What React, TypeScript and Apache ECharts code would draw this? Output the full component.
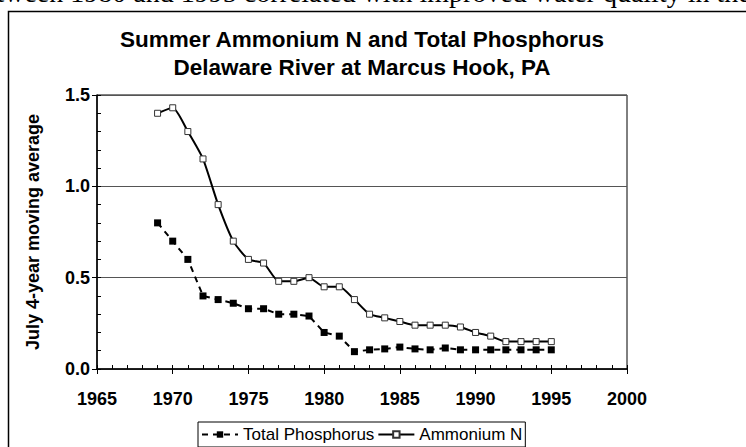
import React, { useEffect, useRef } from "react";
import * as echarts from "echarts";

const years = [1969, 1970, 1971, 1972, 1973, 1974, 1975, 1976, 1977, 1978, 1979, 1980, 1981, 1982, 1983, 1984, 1985, 1986, 1987, 1988, 1989, 1990, 1991, 1992, 1993, 1994, 1995];
const ammoniumN = [1.40, 1.43, 1.30, 1.15, 0.90, 0.70, 0.60, 0.58, 0.48, 0.48, 0.50, 0.45, 0.45, 0.38, 0.30, 0.28, 0.26, 0.24, 0.24, 0.24, 0.23, 0.20, 0.18, 0.15, 0.15, 0.15, 0.15];
const totalPhosphorus = [0.80, 0.70, 0.60, 0.40, 0.38, 0.36, 0.33, 0.33, 0.30, 0.30, 0.29, 0.20, 0.18, 0.095, 0.105, 0.11, 0.12, 0.11, 0.105, 0.115, 0.105, 0.105, 0.105, 0.105, 0.105, 0.105, 0.105];
const titleLines = ["Summer Ammonium N and Total Phosphorus", "Delaware River at Marcus Hook, PA"];
const yAxisTitle = "July 4-year moving average";
const seriesNames = ["Total Phosphorus", "Ammonium N"];
const clippedText = "between 1980 and 1995 correlated with improved water quality in the";

const SANS = '"Liberation Sans", Arial, sans-serif';

export default function App() {
  const ref = useRef<HTMLDivElement>(null);
  useEffect(() => {
    if (!ref.current) return;
    const chart = echarts.init(ref.current, null, { renderer: "svg" });
    const common = { type: "value" as const, splitLine: { show: false } };
    chart.setOption({
      animation: false,
      backgroundColor: "#fff",
      graphic: [
        {
          type: "text",
          x: -30,
          y: 6,
          style: { text: clippedText, font: '28px "Liberation Serif", serif', fill: "#000", verticalAlign: "bottom", align: "left" },
        },
        {
          type: "rect",
          shape: { x: 8.5, y: 11.5, width: 800, height: 500 },
          style: { fill: "none", stroke: "#000", lineWidth: 1.5 },
          z: -10,
        },
        {
          type: "text",
          x: 362,
          y: 39,
          style: { text: titleLines[0], font: `bold 22.5px ${SANS}`, fill: "#000", align: "center", verticalAlign: "middle" },
        },
        {
          type: "text",
          x: 362,
          y: 67,
          style: { text: titleLines[1], font: `bold 22.5px ${SANS}`, fill: "#000", align: "center", verticalAlign: "middle" },
        },
      ],
      grid: { left: 97, right: 119, top: 95, bottom: 78, show: true, borderColor: "#000", borderWidth: 1, backgroundColor: "transparent" },
      legend: {
        left: 198,
        top: 422,
        orient: "horizontal",
        borderColor: "#000",
        borderWidth: 1,
        borderRadius: 0,
        padding: [4, 3, 4, 3],
        itemGap: 3,
        itemWidth: 36,
        itemHeight: 8,
        backgroundColor: "#fff",
        textStyle: { fontFamily: SANS, fontSize: 17, color: "#000" },
        data: seriesNames,
      },
      xAxis: [
        {
          ...common,
          min: 1965,
          max: 2000,
          interval: 5,
          position: "bottom",
          axisLine: { show: true, lineStyle: { color: "#000", width: 1.5 } },
          axisTick: { show: true, inside: false, length: 5, lineStyle: { color: "#000", width: 1 } },
          minorTick: { show: false },
          axisLabel: { margin: 21, fontSize: 18, fontWeight: "bold", color: "#000", fontFamily: SANS, formatter: (v: number) => String(v) },
        },
        {
          ...common,
          min: 1965,
          max: 2000,
          interval: 5,
          position: "bottom",
          axisLine: { show: false },
          axisTick: { show: true, inside: true, length: 4, lineStyle: { color: "#000", width: 1 } },
          minorTick: { show: true, splitNumber: 5, length: 4, lineStyle: { color: "#000", width: 1 } },
          axisLabel: { show: false },
        },
      ],
      yAxis: [
        {
          type: "value",
          min: 0,
          max: 1.5,
          interval: 0.5,
          position: "left",
          axisLine: { show: true, lineStyle: { color: "#000", width: 1.5 } },
          axisTick: { show: true, inside: false, length: 5, lineStyle: { color: "#000", width: 1 } },
          minorTick: { show: false },
          splitLine: { show: true, lineStyle: { color: "#555", width: 1 } },
          axisLabel: { margin: 7, fontSize: 18, fontWeight: "bold", color: "#000", fontFamily: SANS, formatter: (v: number) => v.toFixed(1) },
          name: yAxisTitle,
          nameLocation: "middle",
          nameGap: 55,
          nameTextStyle: { fontSize: 18, fontWeight: "bold", color: "#000", fontFamily: SANS },
        },
        {
          type: "value",
          min: 0,
          max: 1.5,
          interval: 0.5,
          position: "left",
          axisLine: { show: false },
          axisTick: { show: true, inside: true, length: 4, lineStyle: { color: "#000", width: 1 } },
          minorTick: { show: true, splitNumber: 5, length: 4, lineStyle: { color: "#000", width: 1 } },
          splitLine: { show: false },
          axisLabel: { show: false },
        },
      ],
      series: [
        {
          type: "line",
          name: seriesNames[0],
          xAxisIndex: 0,
          yAxisIndex: 0,
          data: years.map((y, i) => [y, totalPhosphorus[i]]),
          symbol: "rect",
          symbolSize: 7,
          itemStyle: { color: "#000", borderWidth: 0 },
          lineStyle: { color: "#000", width: 2, type: [6, 5] },
          z: 3,
        },
        {
          type: "line",
          name: seriesNames[1],
          xAxisIndex: 0,
          yAxisIndex: 0,
          data: years.map((y, i) => [y, ammoniumN[i]]),
          symbol: "rect",
          symbolSize: 6,
          smooth: 0.2,
          itemStyle: { color: "#fff", borderColor: "#333", borderWidth: 1 },
          lineStyle: { color: "#000", width: 2 },
          z: 4,
        },
      ],
    });
    return () => chart.dispose();
  }, []);
  return <div ref={ref} style={{ position: "absolute", left: 0, top: 0, width: 746, height: 447 }} />;
}
